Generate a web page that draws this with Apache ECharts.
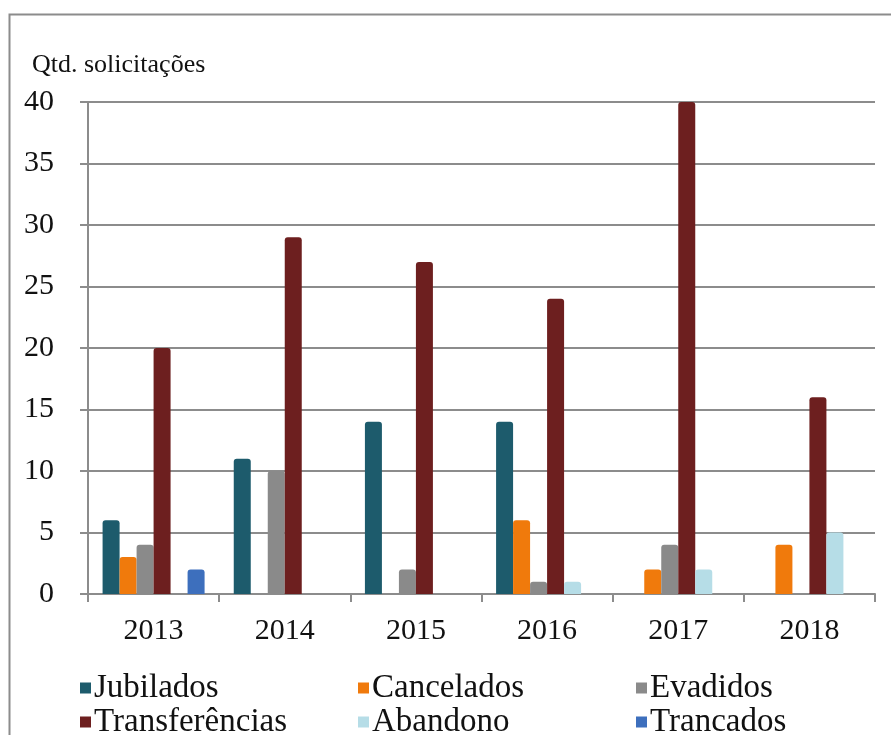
<!DOCTYPE html>
<html>
<head>
<meta charset="utf-8">
<script src="https://cdn.jsdelivr.net/npm/echarts@6/dist/echarts.min.js"></script>
<style>
  html, body { margin: 0; padding: 0; background: #ffffff; }
  #main { width: 891px; height: 735px; }
</style>
</head>
<body>
<div id="main"></div>
<script>
// anos e series
var anos = ['2013', '2014', '2015', '2016', '2017', '2018'];
var jubilados = [6, 11, 14, 14, 0, 0];
var cancelados = [3, 0, 0, 6, 2, 4];
var evadidos = [4, 10, 2, 1, 4, 0];
var transferencias = [20, 29, 27, 24, 40, 16];
var abandono = [0, 0, 0, 1, 2, 5];
var trancados = [2, 0, 0, 0, 0, 0];

var serif = '"Liberation Serif", "DejaVu Serif", serif';

var chart = echarts.init(document.getElementById('main'));

function bar(name, data, color) {
  return {
    name: name,
    type: 'bar',
    data: data,
    barWidth: 17,
    barGap: '0%',
    itemStyle: { color: color, borderRadius: [3, 3, 0, 0] }
  };
}

// um item de legenda por componente (grade 3x2)
function legendItem(name, col, row) {
  return {
    left: 75 + col * 278,
    top: 666 + row * 34,
    itemWidth: 11,
    itemHeight: 11,
    icon: 'rect',
    data: [name],
    textStyle: {
      fontFamily: serif, fontSize: 33, lineHeight: 34, color: '#111',
      padding: [0, 0, 0, -2]
    }
  };
}

var option = {
  backgroundColor: '#ffffff',
  animation: false,
  title: {
    text: 'Qtd. solicitações',
    left: 27,
    top: 47,
    textStyle: { fontFamily: serif, fontSize: 26, fontWeight: 'normal', color: '#111' }
  },
  graphic: [{
    type: 'rect',
    shape: { x: 9.5, y: 14.5, width: 900, height: 800 },
    style: { fill: 'none', stroke: '#8c8c8c', lineWidth: 2 },
    silent: true
  }],
  legend: [
    legendItem('Jubilados', 0, 0),
    legendItem('Cancelados', 1, 0),
    legendItem('Evadidos', 2, 0),
    legendItem('Transferências', 0, 1),
    legendItem('Abandono', 1, 1),
    legendItem('Trancados', 2, 1)
  ],
  grid: { left: 88, right: 16, top: 102, bottom: 141 },
  xAxis: {
    type: 'category',
    data: anos,
    axisLine: { lineStyle: { color: '#8c8c8c', width: 2 } },
    axisTick: { show: true, length: 8, lineStyle: { color: '#8c8c8c', width: 2 } },
    axisLabel: { fontFamily: serif, fontSize: 30, color: '#111', margin: 22 }
  },
  yAxis: {
    type: 'value',
    min: 0,
    max: 40,
    interval: 5,
    axisLine: { show: true, lineStyle: { color: '#8c8c8c', width: 2 } },
    axisTick: { show: true, length: 8, lineStyle: { color: '#8c8c8c', width: 2 } },
    axisLabel: { fontFamily: serif, fontSize: 30, color: '#111', margin: 34 },
    splitLine: { lineStyle: { color: '#8c8c8c', width: 2 } }
  },
  series: [
    bar('Jubilados', jubilados, '#1d5b6c'),
    bar('Cancelados', cancelados, '#f07a0c'),
    bar('Evadidos', evadidos, '#8a8a8a'),
    bar('Transferências', transferencias, '#6d1f1f'),
    bar('Abandono', abandono, '#b6dde7'),
    bar('Trancados', trancados, '#3d6fbd')
  ]
};

chart.setOption(option);
</script>
</body>
</html>
